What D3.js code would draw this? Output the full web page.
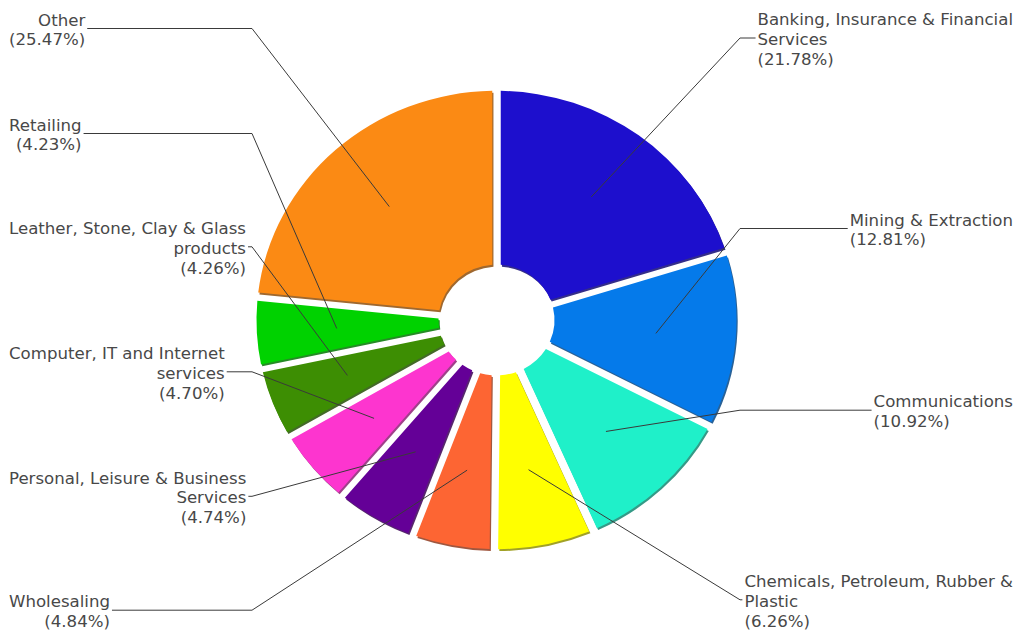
<!DOCTYPE html>
<html>
<head>
<meta charset="utf-8">
<script src="https://cdn.jsdelivr.net/npm/d3@7/dist/d3.min.js"></script>
<style>
  html, body { margin: 0; padding: 0; background: #ffffff; }
  svg { display: block; }
</style>
</head>
<body>
<svg id="chart" width="1022" height="633"></svg>
<script>
// Industry shares (%), listed clockwise from 12 o'clock
const categories = [
  "Banking, Insurance & Financial Services",
  "Mining & Extraction",
  "Communications",
  "Chemicals, Petroleum, Rubber & Plastic",
  "Wholesaling",
  "Personal, Leisure & Business Services",
  "Computer, IT and Internet services",
  "Leather, Stone, Clay & Glass products",
  "Retailing",
  "Other"
];
const shares = [21.78, 12.81, 10.92, 6.26, 4.84, 4.74, 4.70, 4.26, 4.23, 25.47];

// Wrapped label text for each category
const labelLines = [
  ["Banking, Insurance & Financial", "Services"],
  ["Mining & Extraction"],
  ["Communications"],
  ["Chemicals, Petroleum, Rubber &", "Plastic"],
  ["Wholesaling"],
  ["Personal, Leisure & Business", "Services"],
  ["Computer, IT and Internet", "services"],
  ["Leather, Stone, Clay & Glass", "products"],
  ["Retailing"],
  ["Other"]
];

const sliceColors = [
  "#1d0fcd", "#057aea", "#1ff0c9", "#ffff00", "#fd6533",
  "#640097", "#fd35cf", "#3d8e03", "#00d200", "#fb8a14"
];

// Label placement: which side of the ring, and the vertical centre of each text block
const labelSide = ["right", "right", "right", "right", "left", "left", "left", "left", "left", "left"];
const labelCenterY = [39.5, 230, 411.7, 601.3, 611.7, 497.8, 373.3, 248.3, 135, 30];

// ---- layout ----
const cx = 496.5, cy = 320;
const outerR = 240, innerR = 58, squash = 0.955;
const anchorR = 160;
const fontSize = 16.6, lineGap = 19.7;
const leftEdge = 9, rightEdge = 1013;
const elbowLeft = 252, elbowRight = 740;

const rows = categories.map((c, i) => ({
  name: c, value: shares[i], lines: labelLines[i],
  color: sliceColors[i], side: labelSide[i], cyLabel: labelCenterY[i]
}));

const pie = d3.pie()
  .value(d => d.value)
  .sort(null)
  .startAngle(0)
  .endAngle(2 * Math.PI)
  .padAngle(0.085);

const arcs = pie(rows);

const arc = d3.arc()
  .innerRadius(innerR)
  .outerRadius(outerR)
  .padRadius(100);

const anchorArc = d3.arc().innerRadius(anchorR).outerRadius(anchorR);

const svg = d3.select("#chart");

const ring = svg.append("g")
  .attr("transform", `translate(${cx},${cy}) scale(1,${squash})`);

// darker edge under each slice
ring.selectAll("path.shadow")
  .data(arcs)
  .join("path")
  .attr("class", "shadow")
  .attr("d", arc)
  .attr("transform", "translate(1.2,2)")
  .attr("fill", d => d3.color(d.data.color).darker(1.6).formatHex())
  .attr("opacity", 0.85);

ring.selectAll("path.slice")
  .data(arcs)
  .join("path")
  .attr("class", "slice")
  .attr("d", arc)
  .attr("fill", d => d.data.color);

// ---- labels ----
const labelG = svg.append("g")
  .attr("font-family", "'DejaVu Sans', Verdana, sans-serif")
  .attr("font-size", fontSize)
  .attr("fill", "#484848");

const lineG = svg.insert("g", () => labelG.node())
  .attr("fill", "none")
  .attr("stroke", "#3a3a3a")
  .attr("stroke-width", 1);

arcs.forEach(d => {
  const row = d.data;
  const allLines = row.lines.concat([`(${row.value.toFixed(2)}%)`]);
  const n = allLines.length;
  const block = labelG.append("g");
  const texts = allLines.map((t, k) =>
    block.append("text")
      .attr("y", row.cyLabel + (k - (n - 1) / 2) * lineGap)
      .attr("dominant-baseline", "central")
      .text(t)
  );
  const maxW = d3.max(texts, t => t.node().getComputedTextLength());

  let textEdge, elbowX;
  if (row.side === "left") {
    textEdge = leftEdge + maxW;
    texts.forEach(t => t.attr("x", textEdge).attr("text-anchor", "end"));
    textEdge += 2;
    elbowX = Math.max(elbowLeft, textEdge);
  } else {
    textEdge = rightEdge - maxW;
    texts.forEach(t => t.attr("x", textEdge).attr("text-anchor", "start"));
    textEdge -= 2;
    elbowX = Math.min(elbowRight, textEdge);
  }

  const c = anchorArc.centroid(d);
  const ax = cx + c[0], ay = cy + c[1] * squash;
  const ly = row.cyLabel - 1.5;

  lineG.append("path")
    .attr("d", d3.line()([[ax, ay], [elbowX, ly], [textEdge, ly]]));
});
</script>
</body>
</html>
